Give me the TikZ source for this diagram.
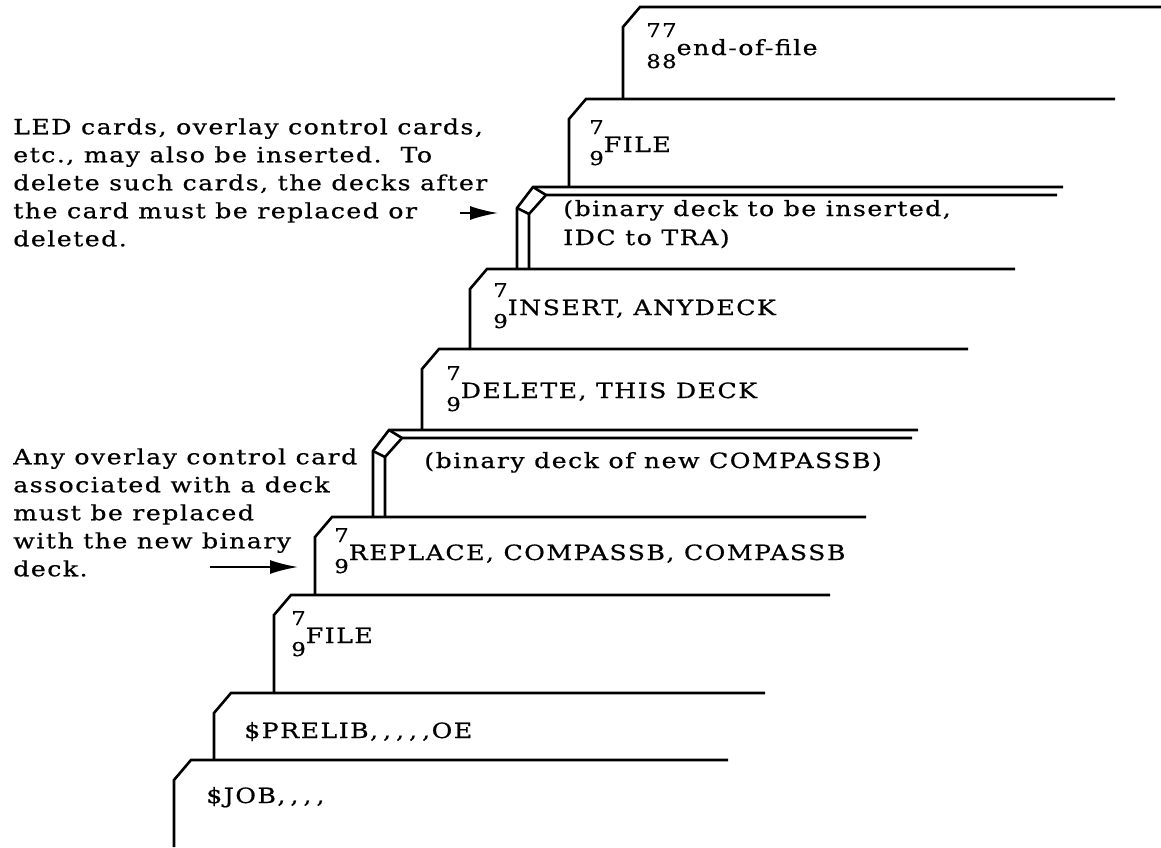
\documentclass[tikz,border=0pt]{standalone}
\usepackage{fontspec}
\setmainfont{DejaVu Serif}[FakeStretch=1.2,LetterSpace=7,FakeBold=0.6]
\usetikzlibrary{arrows.meta}

% punched rows over and under the card text
\newcommand\punch[2]{%
	\makebox[0pt][l]{\raisebox{18pt}{\fontsize{19}{19}\selectfont #1}}%
	\raisebox{-13pt}{\fontsize{19}{19}\selectfont #2}}

% spaced commas of a control card
\newcommand\cma{,\hspace{5pt}}

% one card: left x, top y, right x, bottom y
\newcommand\deckcard[4]{%
	\draw (#1,#4) -- (#1,#2+20) -- (#1+17,#2) -- (#3,#2);}

% a binary deck, drawn with its thickness
\newcommand\bindeck[4]{%
	\draw (#1,#4) -- (#1,#2+21) -- (#1+16,#2) -- (#3,#2);
	\draw (#1+12,#4) -- (#1+12,#2+27) -- (#1+29,#2+8) -- (#3-6,#2+8);
	\draw (#1,#2+21) -- (#1+12,#2+27) (#1+16,#2) -- (#1+29,#2+8);}

\begin{document}
\begin{tikzpicture}[x=1pt,y=-1pt,line width=2.6pt,
		cardtext/.style={anchor=base west,inner sep=0pt,font=\fontsize{21}{28}\selectfont},
		note/.style={anchor=north west,inner sep=0pt,align=left,font=\fontsize{21}{28}\selectfont},
		pointer/.style={line width=2pt,-{Latex[length=28pt,width=14pt]}}]
	\useasboundingbox (0,0) rectangle (1161,847);

	% the cards, top of the stack first
	\deckcard{623}{7}{1161}{99}
	\deckcard{569}{99}{1115}{187}
	\bindeck{517}{187}{1063}{269}
	\deckcard{470}{269}{1015}{349}
	\deckcard{422}{349}{968}{430}
	\bindeck{373}{430}{918}{517}
	\deckcard{315}{517}{866}{595}
	\deckcard{274}{595}{830}{693}
	\deckcard{214}{693}{765}{760}
	\deckcard{174}{760}{728}{847}

	\node[cardtext] (eof) at (645,55) {\punch{77}{88}end-of-file};
	\node[cardtext] (fileTop) at (588,152) {\punch{7}{9}FILE};
	\node[cardtext] (insDeck) at (562,216) {(binary deck to be inserted,};
	\node[cardtext] (insDeckB) at (562,245) {IDC to TRA)};
	\node[cardtext] (insert) at (492,315) {\punch{7}{9}INSERT, ANYDECK};
	\node[cardtext] (delete) at (445,398) {\punch{7}{9}DELETE, THIS DECK};
	\node[cardtext] (newDeck) at (423,468) {(binary deck of new COMPASSB)};
	\node[cardtext] (replace) at (333,560) {\punch{7}{9}REPLACE, COMPASSB, COMPASSB};
	\node[cardtext] (fileLow) at (290,643) {\punch{7}{9}FILE};
	\node[cardtext] (prelib) at (243,738) {\$PRELIB\cma\cma\cma\cma,OE};
	\node[cardtext] (job) at (205,803) {\$JOB\cma\cma\cma,};

	% notes at the left
	\node[note] (ledNote) at (12,117) {LED cards, overlay control cards,\\
		etc., may also be inserted.\ \ To\\
		delete such cards, the decks after\\
		the card must be replaced or\\
		deleted.};
	\node[note] (ovlNote) at (12,447) {Any overlay control card\\
		associated with a deck\\
		must be replaced\\
		with the new binary\\
		deck.};

	\coordinate (ledTail) at (460,213);
	\coordinate (ledTip) at (498,213);
	\coordinate (ovlTail) at (210,567);
	\coordinate (ovlTip) at (298,567);
	\draw[pointer] (ledTail) -- (ledTip);
	\draw[pointer] (ovlTail) -- (ovlTip);
\end{tikzpicture}
\end{document}
